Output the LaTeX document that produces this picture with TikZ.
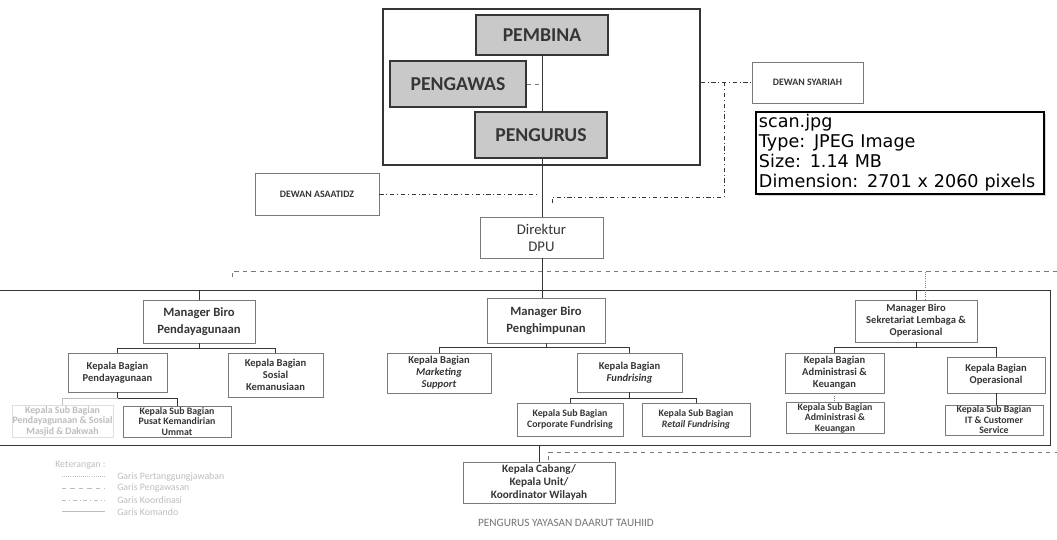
\documentclass[tikz,border=0pt]{standalone}
\usepackage{fontspec}
\setmainfont{Carlito}
\newfontfamily\infofamily{DejaVu Sans}
\usepackage{xcolor}
\usetikzlibrary{arrows.meta,positioning,calc,shadows}
\definecolor{inkgray}{HTML}{363636}
\definecolor{linegray}{HTML}{7A7A7A}
\definecolor{topfill}{HTML}{C9C9C9}
\definecolor{fadegray}{HTML}{BDBDBD}
\newcommand\topfont{\fontsize{14}{16}\selectfont\bfseries}
\newcommand\dewanfont{\fontsize{7}{8}\selectfont\bfseries}
\newcommand\dpufont{\fontsize{10.5}{12}\selectfont}
\newcommand\mgrfont{\fontsize{9}{12}\selectfont\bfseries}
\newcommand\kbfont{\fontsize{7.5}{8.6}\selectfont\bfseries}
\newcommand\ksbfont{\fontsize{7}{7.5}\selectfont\bfseries}
\newcommand\cabfont{\fontsize{8}{9.5}\selectfont\bfseries}
\tikzset{
  topbox/.style={
    rectangle, draw=inkgray, fill=topfill, line width=0.8pt,
    font=\topfont, text=inkgray, inner sep=2pt
  },
  orgbox/.style={
    rectangle, draw=linegray, fill=white, line width=0.6pt,
    font=#1, text=inkgray, align=center, inner sep=0.5pt
  },
  orgbox/.default=\kbfont,
  dewanbox/.style={
    rectangle, draw=linegray, fill=white, line width=0.6pt,
    font=\dewanfont, text=inkgray, inner sep=1pt
  },
  fadebox/.style={
    rectangle, draw=fadegray!50, fill=white, line width=0.5pt,
    font=\ksbfont, text=fadegray, align=center, inner sep=0.5pt
  },
  infobox/.style={
    rectangle, draw=black, fill=white, line width=1.1pt,
    drop shadow={opacity=0.35, shadow xshift=1.5pt, shadow yshift=-1.5pt},
    font=\infofamily\fontsize{12.5}{14.2}\selectfont, align=left,
    inner xsep=2pt, inner ysep=1pt
  },
  komando/.style={draw=inkgray, line width=0.6pt},
  koordinasi/.style={draw=inkgray, line width=0.6pt, dash dot},
  bantu/.style={draw=linegray, line width=0.6pt, dashed},
  fadeline/.style={draw=fadegray, line width=0.5pt},
  legendtext/.style={font=\fontsize{7}{8}\selectfont, text=fadegray, inner sep=0pt}
}

\begin{document}
\begin{tikzpicture}[x=0.025cm, y=-0.025cm]
  \useasboundingbox (0,0) rectangle (1057,539);

  % Yayasan
  \node[draw=inkgray, line width=0.8pt, minimum width=7.925cm, minimum height=3.9cm] (yayasan) at (541.5,87) {};
  \node[topbox, minimum width=3.3cm, minimum height=1.0cm] (pembina) at (542,35) {PEMBINA};
  \node[topbox, minimum width=3.4cm, minimum height=1.15cm] (pengawas) at (458,84) {PENGAWAS};
  \node[topbox, minimum width=3.3cm, minimum height=1.15cm] (pengurus) at (541,135) {PENGURUS};
  \draw[komando] (pembina.south) -- (pembina.south |- pengurus.north);
  \draw[bantu] (pengawas.east) -- (pengawas.east -| pembina.south);

  % Dewan
  \node[dewanbox, minimum width=2.775cm, minimum height=1.025cm] (syariah) at (807.5,82.5) {DEWAN SYARIAH};
  \node[dewanbox, minimum width=3.1cm, minimum height=1.05cm] (asaatidz) at (317,194) {DEWAN ASAATIDZ};
  \node[infobox, text width=7.05cm, minimum height=2.05cm] (scan) at (900,153)
    {scan.jpg\\Type: JPEG Image\\Size: 1.14 MB\\Dimension: 2701 x 2060 pixels};

  % Direktur
  \node[orgbox=\dpufont, minimum width=3.075cm, minimum height=1.025cm] (dpu) at (541.5,237.5) {Direktur\\DPU};
  \draw[komando] (pembina.south |- pengurus.south) -- (pembina.south |- dpu.north);

  % koordinasi
  \coordinate (koA) at (552,197);
  \coordinate (koB) at (724,197);
  \draw[koordinasi] (asaatidz.east) -- ($(asaatidz.east -| pembina.south)+(-4,0)$);
  \draw[koordinasi] ($(koA)+(0,6)$) -- (koA) -- (koB) -- (koB |- syariah.west);
  \draw[koordinasi] (syariah.west -| yayasan.east) -- (syariah.west);

  % band of the bureaus
  \coordinate (bandTL) at (0,290);
  \coordinate (bandBR) at (1050,445);
  \draw[komando] (bandTL) -- (bandTL -| bandBR) -- (bandBR) -- (bandBR -| bandTL);
  \draw[bantu] (232,277) -- (232,271) -- (1057,271);
  \draw[bantu] (548,460) -- (548,452) -- (1057,452);

  % Managers
  \node[orgbox=\mgrfont, minimum width=2.8cm, minimum height=1.075cm] (mgrDaya) at (199,321.5) {Manager Biro\\Pendayagunaan};
  \node[orgbox=\mgrfont, minimum width=2.95cm, minimum height=1.125cm] (mgrHimpun) at (546,320.5) {Manager Biro\\Penghimpunan};
  \node[orgbox, minimum width=3.05cm, minimum height=1.05cm] (mgrSekre) at (916,321) {Manager Biro\\Sekretariat Lembaga \&\\Operasional};
  \draw[komando] (pembina.south |- dpu.south) -- (pembina.south |- mgrHimpun.north);
  \draw[komando] (mgrDaya.north) -- (mgrDaya.north |- bandTL);
  \draw[komando] (mgrSekre.north) -- (mgrSekre.north |- bandTL);
  \draw[bantu, densely dotted] ($(mgrSekre.north)+(9,0)$) -- ++(0,-29);

  % Pendayagunaan
  \node[orgbox, minimum width=2.475cm, minimum height=0.975cm] (kbDaya) at (117.5,372.5) {Kepala Bagian\\Pendayagunaan};
  \node[orgbox, minimum width=2.375cm, minimum height=1.1cm] (kbSosial) at (275.5,375) {Kepala Bagian\\Sosial\\Kemanusiaan};
  \draw[komando] (mgrDaya.south) -- ++(0,5) -| (kbDaya.north);
  \draw[komando] (mgrDaya.south) ++(0,5) -| (kbSosial.north);
  \node[fadebox, minimum width=2.375cm, minimum height=0.8cm] (ksbMasjid) at (62.5,421) {Kepala Sub Bagian\\Pendayagunaan \& Sosial\\Masjid \& Dakwah};
  \node[orgbox=\ksbfont, minimum width=2.7cm, minimum height=0.775cm] (ksbUmmat) at (177,421.5) {Kepala Sub Bagian\\Pusat Kemandirian\\Ummat};
  \draw[komando] (kbDaya.south) -- ++(0,6) -| (ksbUmmat.north);
  \draw[fadeline] (kbDaya.south) ++(0,6) -| (ksbMasjid.north);

  % Penghimpunan
  \node[orgbox, minimum width=2.6cm, minimum height=1.0cm] (kbMarketing) at (439,373) {Kepala Bagian\\\textit{Marketing}\\\textit{Support}};
  \node[orgbox, minimum width=2.625cm, minimum height=0.975cm] (kbFund) at (629.5,372.5) {Kepala Bagian\\\textit{Fundrising}};
  \draw[komando] (mgrHimpun.south) -- ++(0,4) -| (kbMarketing.north);
  \draw[komando] (mgrHimpun.south) ++(0,4) -| (kbFund.north);
  \node[orgbox=\ksbfont, minimum width=2.65cm, minimum height=0.825cm] (ksbCorp) at (570,419.5) {Kepala Sub Bagian\\Corporate Fundrising};
  \node[orgbox=\ksbfont, minimum width=2.7cm, minimum height=0.825cm] (ksbRetail) at (696,419.5) {Kepala Sub Bagian\\\textit{Retail Fundrising}};
  \draw[komando] (kbFund.south) -- ++(0,6) -| (ksbCorp.north);
  \draw[komando] (kbFund.south) ++(0,6) -| (ksbRetail.north);

  % Sekretariat
  \node[orgbox, minimum width=2.475cm, minimum height=1.0cm] (kbAdmin) at (834.5,373) {Kepala Bagian\\Administrasi \&\\Keuangan};
  \node[orgbox, minimum width=2.45cm, minimum height=0.9cm] (kbOps) at (996,375) {Kepala Bagian\\Operasional};
  \draw[komando] (mgrSekre.south) -- ++(0,5) -| (kbAdmin.north);
  \draw[komando] (mgrSekre.south) ++(0,5) -| (kbOps.north);
  \node[orgbox=\ksbfont, minimum width=2.45cm, minimum height=0.75cm] (ksbAdmin) at (835,418) {Kepala Sub Bagian\\Administrasi \&\\Keuangan};
  \node[orgbox=\ksbfont, minimum width=2.45cm, minimum height=0.75cm] (ksbIT) at (994,420) {Kepala Sub Bagian\\IT \& Customer\\Service};
  \draw[bantu, densely dotted] (kbAdmin.south) -- (kbAdmin.south |- ksbAdmin.north);
  \draw[komando] (kbOps.south) -- (kbOps.south |- ksbIT.north);

  % Cabang
  \node[orgbox=\cabfont, minimum width=3.8cm, minimum height=1.025cm] (cabang) at (539,482.5) {Kepala Cabang/\\Kepala Unit/\\Koordinator Wilayah};
  \draw[komando] (cabang.north) -- (cabang.north |- bandBR);

  \node[font=\fontsize{8}{9}\selectfont, text=black!55] (judul) at (566,523) {PENGURUS YAYASAN DAARUT TAUHIID};

  % Keterangan
  \node[legendtext, anchor=west] (ket) at (55,465) {Keterangan :};
  \foreach \i/\pat/\txt in {1/densely dotted/Garis Pertanggungjawaban,
                            2/dashed/Garis Pengawasan,
                            3/dash dot/Garis Koordinasi,
                            4/solid/Garis Komando} {
    \draw[fadeline, \pat] (62,{465+11.7*\i}) -- (105,{465+11.7*\i});
    \node[legendtext, anchor=west] (leg\i) at (117,{465+11.7*\i}) {\txt};
  }
\end{tikzpicture}
\end{document}
